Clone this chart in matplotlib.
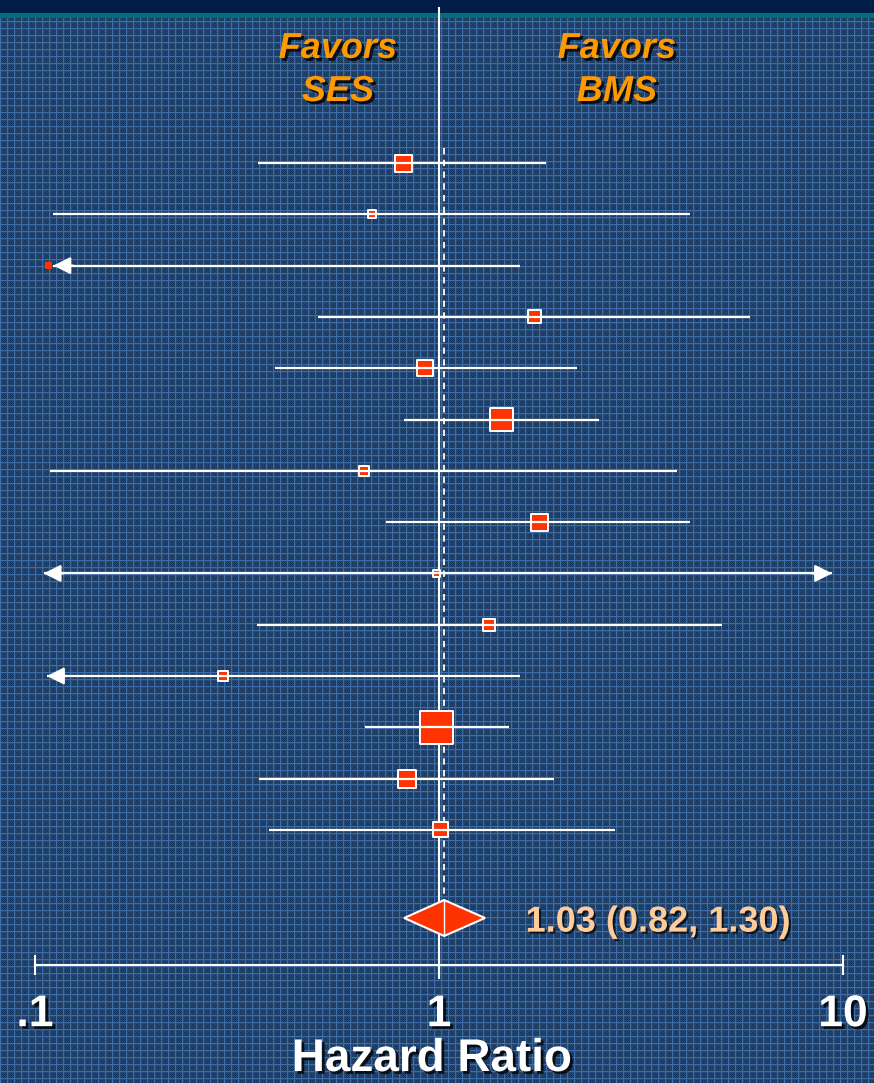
import numpy as np
import matplotlib
matplotlib.use("Agg")
import matplotlib.pyplot as plt
import matplotlib.patheffects as pe

plt.rcParams['font.family'] = ['Liberation Sans', 'DejaVu Sans']

# study estimates (hazard ratio with 95% CI), top to bottom
hr = [0.815, 0.682, 0.108, 1.72, 0.922, 1.43, 0.651, 1.77, 0.984, 1.33, 0.292, 0.984, 0.833, 1.01]
ci_lo = [0.356, 0.111, 0.111, 0.501, 0.393, 0.818, 0.109, 0.739, 0.105, 0.355, 0.107, 0.657, 0.358, 0.38]
ci_hi = [1.84, 4.18, 1.585, 5.89, 2.20, 2.49, 3.88, 4.18, 9.4, 5.02, 1.585, 1.49, 1.93, 2.73]
lo_cut = [False, False, True, False, False, False, False, False, True, False, True, False, False, False]
hi_cut = [False, False, False, False, False, False, False, False, True, False, False, False, False, False]
box_px = [17, 8, 7, 13, 16, 23, 10, 17, 7, 12, 10, 33, 18, 15]
box_edge = [True, True, False, True, True, True, True, True, True, True, True, True, True, True]

pooled = 1.03
pooled_lo = 0.82
pooled_hi = 1.30
pooled_label = "1.03 (0.82, 1.30)"

W, H = 874, 1083
RED = '#ff3300'
ORANGE = '#ff9900'

fig = plt.figure(figsize=(W / 100, H / 100), dpi=100)

# textured slide background
yy, xx = np.mgrid[0:H, 0:W]
bg = np.zeros((H, W, 3))
bg[:] = (0.14, 0.29, 0.47)
dark = ((xx % 7 >= 2) & (yy % 7 >= 2) & ((xx + yy) % 2 == 0))
bg[dark] = (0.09, 0.20, 0.35)
light = (xx % 7 == 0) | (yy % 7 == 0)
bg[light] = (0.24, 0.43, 0.66)
bg[:13] = (0.0, 0.11, 0.29)
bg[13:18] = (0.0, 0.45, 0.47)
bax = fig.add_axes([0, 0, 1, 1])
bax.imshow(bg, aspect='auto', interpolation='nearest')
bax.axis('off')

# main forest axes, row i sits at pixel 163 + 51.3 * i
row_h = 51.3
ax = fig.add_axes([35 / W, 0, 808 / W, 1])
ax.patch.set_alpha(0)
ax.set_xscale('log')
ax.set_xlim(0.1, 10)
ax.set_ylim((H - 163) / row_h, -163 / row_h)

rows = np.arange(len(hr))
pool_row = (918 - 163) / row_h
axis_row = (965 - 163) / row_h

# reference lines
ax.plot([1, 1], [(8 - 163) / row_h, (978 - 163) / row_h], color='white', lw=1.5, zorder=2)
ax.plot([pooled, pooled], [-0.3, pool_row - 0.33], color='white', lw=1.3,
        ls=(0, (3.5, 3)), zorder=2)

# confidence intervals
arrow = dict(arrowstyle='-|>', color='white', lw=1.6, mutation_scale=26, shrinkA=0, shrinkB=0)
for i in rows:
    lo, hi = ci_lo[i], ci_hi[i]
    ax.plot([lo, hi], [i, i], color='white', lw=1.6, zorder=4, solid_capstyle='butt')
    if lo_cut[i]:
        ax.annotate('', xy=(lo, i), xytext=(lo * 1.12, i), arrowprops=arrow, zorder=5)
    if hi_cut[i]:
        ax.annotate('', xy=(hi, i), xytext=(hi / 1.12, i), arrowprops=arrow, zorder=5)

# study boxes
sizes = [(b * 0.72) ** 2 for b in box_px]
edges = ['white' if e else 'none' for e in box_edge]
ax.scatter(hr, rows, s=sizes, marker='s', color=RED, edgecolors=edges,
           linewidths=1.4, zorder=3)

# pooled diamond
dx = [pooled_lo, pooled, pooled_hi, pooled, pooled_lo]
dy = [pool_row, pool_row - 0.35, pool_row, pool_row + 0.35, pool_row]
ax.fill(dx, dy, color=RED, ec='white', lw=1.5, zorder=6)
ax.plot([pooled, pooled], [pool_row - 0.35, pool_row + 0.35], color='white', lw=1, zorder=7)
ax.text(pooled_hi * 1.26, pool_row + 0.08, pooled_label, color='#ffcc99',
        fontsize=26, fontweight='bold', va='center', ha='left', zorder=7,
        path_effects=[pe.withSimplePatchShadow(offset=(1.5, -1.5), shadow_rgbFace='black', alpha=0.7)])

# axis
for s in ['top', 'left', 'right']:
    ax.spines[s].set_visible(False)
ax.spines['bottom'].set_position(('data', axis_row))
ax.spines['bottom'].set_color('white')
ax.spines['bottom'].set_linewidth(1.5)
ax.set_yticks([])
ax.set_xticks([0.1, 1, 10])
ax.set_xticklabels(['.1', '1', '10'])
ax.xaxis.set_minor_locator(matplotlib.ticker.NullLocator())
ax.tick_params(axis='x', colors='white', direction='inout', length=14, width=1.5,
               pad=14, labelsize=32)
for t in ax.get_xticklabels():
    t.set_fontweight('bold')
    t.set_path_effects([pe.withSimplePatchShadow(offset=(2, -2), shadow_rgbFace='black', alpha=0.8)])

shadow = [pe.withSimplePatchShadow(offset=(2, -2), shadow_rgbFace='black', alpha=0.8)]
fig.text(432 / W, 2 / H, 'Hazard Ratio', color='white', fontsize=33,
         fontweight='bold', ha='center', va='bottom', path_effects=shadow)

for xc, label in [(338, 'Favors\nSES'), (617, 'Favors\nBMS')]:
    fig.text(xc / W, 1 - 70 / H, label, color=ORANGE, fontsize=26, fontweight='bold',
             fontstyle='italic', ha='center', va='center', linespacing=1.3,
             path_effects=shadow)

fig.savefig('out.png', dpi=100)
